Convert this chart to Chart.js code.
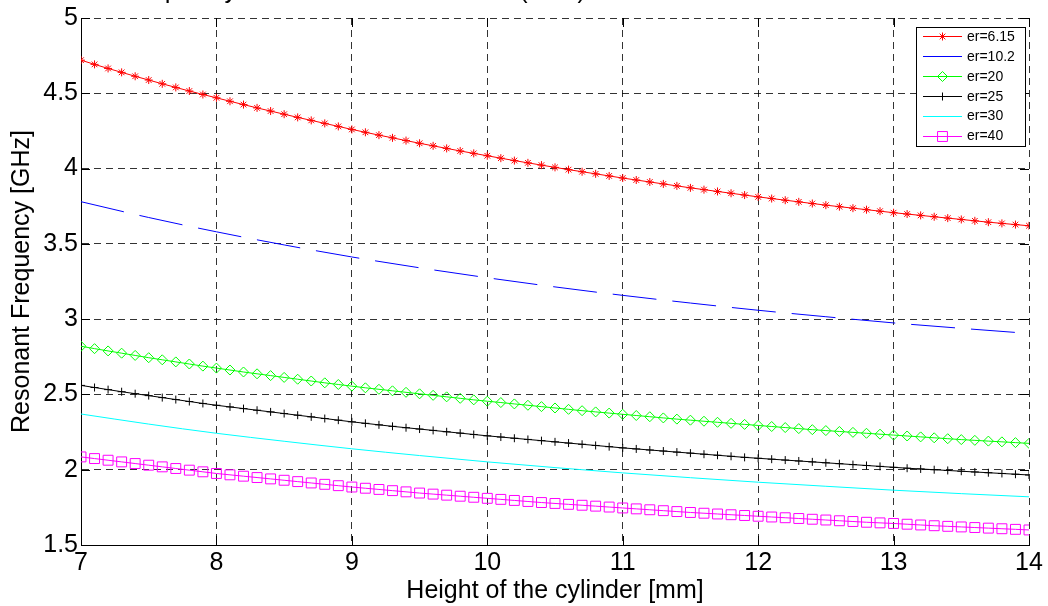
<!DOCTYPE html>
<html>
<head>
<meta charset="utf-8">
<script src="https://cdn.jsdelivr.net/npm/chart.js@4/dist/chart.umd.min.js"></script>
<style>
  html, body { margin: 0; padding: 0; background: #fff; }
  #wrap { width: 1048px; height: 606px; }
</style>
</head>
<body>
<div id="wrap"><canvas id="c" width="1048" height="606"></canvas></div>
<script>
// ==============================
// data
// ==============================
const heights = [
  7.0, 7.1, 7.2, 7.3, 7.4, 7.5, 7.6, 7.7, 7.8, 7.9,
  8.0, 8.1, 8.2, 8.3, 8.4, 8.5, 8.6, 8.7, 8.8, 8.9,
  9.0, 9.1, 9.2, 9.3, 9.4, 9.5, 9.6, 9.7, 9.8, 9.9,
  10.0, 10.1, 10.2, 10.3, 10.4, 10.5, 10.6, 10.7, 10.8, 10.9,
  11.0, 11.1, 11.2, 11.3, 11.4, 11.5, 11.6, 11.7, 11.8, 11.9,
  12.0, 12.1, 12.2, 12.3, 12.4, 12.5, 12.6, 12.7, 12.8, 12.9,
  13.0, 13.1, 13.2, 13.3, 13.4, 13.5, 13.6, 13.7, 13.8, 13.9,
  14.0
];
const heightsCoarse = [7, 7.5, 8, 8.5, 9, 9.5, 10, 10.5, 11, 11.5, 12, 12.5, 13, 13.5, 14];

const er615 = [
  4.720, 4.692, 4.665, 4.639, 4.613, 4.588, 4.563, 4.539, 4.515, 4.492,
  4.470, 4.447, 4.425, 4.403, 4.382, 4.361, 4.340, 4.320, 4.300, 4.280,
  4.260, 4.241, 4.222, 4.204, 4.186, 4.168, 4.151, 4.134, 4.117, 4.101,
  4.085, 4.069, 4.053, 4.038, 4.023, 4.008, 3.993, 3.979, 3.965, 3.951,
  3.937, 3.924, 3.911, 3.898, 3.885, 3.872, 3.860, 3.848, 3.836, 3.824,
  3.812, 3.801, 3.790, 3.779, 3.768, 3.757, 3.747, 3.737, 3.727, 3.717,
  3.707, 3.698, 3.689, 3.680, 3.671, 3.662, 3.653, 3.644, 3.636, 3.628,
  3.620
];
const er102 = [3.780, 3.675, 3.580, 3.493, 3.413, 3.341, 3.275, 3.214, 3.158, 3.107, 3.059, 3.016, 2.975, 2.939, 2.905];
const er20 = [
  2.820, 2.804, 2.789, 2.774, 2.759, 2.744, 2.730, 2.716, 2.702, 2.688,
  2.675, 2.662, 2.649, 2.637, 2.625, 2.613, 2.601, 2.589, 2.577, 2.566,
  2.555, 2.544, 2.534, 2.524, 2.514, 2.504, 2.494, 2.484, 2.474, 2.464,
  2.455, 2.446, 2.437, 2.428, 2.419, 2.410, 2.401, 2.392, 2.384, 2.376,
  2.368, 2.360, 2.352, 2.344, 2.336, 2.329, 2.322, 2.315, 2.308, 2.301,
  2.294, 2.287, 2.280, 2.273, 2.266, 2.260, 2.254, 2.248, 2.242, 2.236,
  2.230, 2.224, 2.218, 2.212, 2.206, 2.200, 2.195, 2.190, 2.185, 2.180,
  2.175
];
const er25 = [
  2.560, 2.546, 2.532, 2.518, 2.505, 2.492, 2.479, 2.466, 2.453, 2.440,
  2.428, 2.417, 2.406, 2.395, 2.384, 2.373, 2.362, 2.351, 2.340, 2.329,
  2.318, 2.308, 2.298, 2.288, 2.279, 2.270, 2.261, 2.252, 2.243, 2.234,
  2.225, 2.217, 2.209, 2.201, 2.193, 2.185, 2.177, 2.169, 2.161, 2.153,
  2.145, 2.138, 2.131, 2.124, 2.117, 2.110, 2.103, 2.096, 2.089, 2.082,
  2.076, 2.070, 2.064, 2.058, 2.052, 2.046, 2.040, 2.034, 2.028, 2.022,
  2.016, 2.010, 2.005, 2.000, 1.995, 1.990, 1.985, 1.980, 1.975, 1.970,
  1.965
];
const er30 = [2.370, 2.303, 2.242, 2.189, 2.139, 2.094, 2.052, 2.014, 1.979, 1.947, 1.917, 1.890, 1.864, 1.841, 1.820];
const er40 = [
  2.085, 2.074, 2.063, 2.052, 2.041, 2.030, 2.019, 2.008, 1.997, 1.986,
  1.975, 1.966, 1.957, 1.948, 1.939, 1.930, 1.921, 1.912, 1.903, 1.894,
  1.885, 1.877, 1.869, 1.861, 1.853, 1.845, 1.838, 1.831, 1.824, 1.817,
  1.810, 1.803, 1.796, 1.789, 1.782, 1.776, 1.770, 1.764, 1.758, 1.752,
  1.746, 1.740, 1.734, 1.728, 1.722, 1.716, 1.711, 1.706, 1.701, 1.696,
  1.691, 1.686, 1.681, 1.676, 1.671, 1.666, 1.661, 1.656, 1.651, 1.647,
  1.643, 1.638, 1.633, 1.628, 1.624, 1.620, 1.616, 1.612, 1.608, 1.604,
  1.600
];

const seriesLabels = ["er=6.15", "er=10.2", "er=20", "er=25", "er=30", "er=40"];
const titleText = "Resonant Frequency vs. dielectric constant er (GHz)";
const xTitle = "Height of the cylinder [mm]";
const yTitle = "Resonant Frequency [GHz]";

const FONT = "'Liberation Sans', Arial, Helvetica, sans-serif";

function pts(xs, ys) {
  return xs.map((x, i) => ({ x: x, y: ys[i] }));
}

// ==============================
// plugins
// ==============================
const matlabPlugin = {
  id: "matlab",

  // inward tick marks on all four sides
  beforeDatasetsDraw(chart) {
    const ctx = chart.ctx;
    const { top, bottom, left, right } = chart.chartArea;
    const xs = chart.scales.x;
    const ys = chart.scales.y;
    const len = 9;
    ctx.save();
    ctx.strokeStyle = "#000";
    ctx.lineWidth = 1;
    ctx.beginPath();
    xs.ticks.forEach((t) => {
      const px = Math.round(xs.getPixelForValue(t.value)) + 0.5;
      ctx.moveTo(px, bottom);
      ctx.lineTo(px, bottom - len);
      ctx.moveTo(px, top);
      ctx.lineTo(px, top + len);
    });
    ys.ticks.forEach((t) => {
      const py = Math.round(ys.getPixelForValue(t.value)) + 0.5;
      ctx.moveTo(left, py);
      ctx.lineTo(left + len, py);
      ctx.moveTo(right, py);
      ctx.lineTo(right - len, py);
    });
    ctx.stroke();
    ctx.restore();
  },

  afterDraw(chart) {
    const ctx = chart.ctx;
    ctx.save();

    // -------------------------
    // title (cut off at the top)
    // -------------------------
    ctx.fillStyle = "#000";
    ctx.font = "25px " + FONT;
    ctx.textAlign = "left";
    ctx.textBaseline = "alphabetic";
    ctx.fillText(titleText, 5, -2);

    // -------------------------
    // legend box
    // -------------------------
    const bx = 916.5, by = 27.5, bw = 109, bh = 119;
    ctx.fillStyle = "#fff";
    ctx.fillRect(bx, by, bw, bh);
    ctx.strokeStyle = "#000";
    ctx.lineWidth = 1;
    ctx.strokeRect(bx, by, bw, bh);

    ctx.font = "14px " + FONT;
    ctx.textBaseline = "middle";
    chart.data.datasets.forEach((ds, i) => {
      const y = 36 + i * 19.9;
      ctx.strokeStyle = ds.borderColor;
      ctx.lineWidth = 1;
      ctx.setLineDash([]);
      ctx.beginPath();
      ctx.moveTo(923, Math.round(y) + 0.5);
      ctx.lineTo(962, Math.round(y) + 0.5);
      ctx.stroke();
      if (ds.pointRadius > 0) {
        ctx.strokeStyle = ds.borderColor;
        ctx.fillStyle = "rgba(0,0,0,0)";
        Chart.helpers.drawPoint(ctx, {
          pointStyle: ds.pointStyle,
          rotation: 0,
          radius: ds.pointRadius,
          borderWidth: 1,
        }, 942.5, Math.round(y) + 0.5);
      }
      ctx.fillStyle = "#000";
      ctx.fillText(ds.label, 967, y + 1);
    });

    ctx.restore();
  },
};

// ==============================
// chart
// ==============================
const common = {
  borderWidth: 1,
  pointBorderWidth: 1,
  pointBackgroundColor: "rgba(0,0,0,0)",
  tension: 0,
  fill: false,
};

new Chart(document.getElementById("c"), {
  type: "line",
  data: {
    datasets: [
      { ...common, label: seriesLabels[0], data: pts(heights, er615),
        borderColor: "#ff0000", pointBorderColor: "#ff0000", pointStyle: "star", pointRadius: 4 },
      { ...common, label: seriesLabels[1], data: pts(heightsCoarse, er102),
        borderColor: "#0000ff", borderDash: [44, 16], pointRadius: 0, cubicInterpolationMode: "monotone" },
      { ...common, label: seriesLabels[2], data: pts(heights, er20),
        borderColor: "#00ff00", pointBorderColor: "#00ff00", pointStyle: "rectRot", pointRadius: 5 },
      { ...common, label: seriesLabels[3], data: pts(heights, er25),
        borderColor: "#000000", pointBorderColor: "#000000", pointStyle: "cross", pointRadius: 4 },
      { ...common, label: seriesLabels[4], data: pts(heightsCoarse, er30),
        borderColor: "#00ffff", pointRadius: 0, cubicInterpolationMode: "monotone" },
      { ...common, label: seriesLabels[5], data: pts(heights, er40),
        borderColor: "#ff00ff", pointBorderColor: "#ff00ff", pointStyle: "rect", pointRadius: 7 },
    ],
  },

  options: {
    responsive: false,
    animation: false,
    events: [],
    layout: {
      padding: { left: 0, right: 19, top: 17, bottom: 0 },
    },
    plugins: {
      legend: { display: false },
      tooltip: { enabled: false },
      title: { display: false },
    },
    scales: {
      x: {
        type: "linear",
        min: 7,
        max: 14,
        ticks: {
          stepSize: 1,
          color: "#000",
          font: { family: FONT, size: 25 },
          padding: 3,
          maxRotation: 0,
          callback: (v) => String(+v),
        },
        grid: {
          color: "rgba(0,0,0,0.8)",
          lineWidth: 1,
          drawTicks: false,
        },
        border: { display: true, color: "#000", width: 1, dash: [7, 5] },
        title: {
          display: true,
          text: xTitle,
          color: "#000",
          font: { family: FONT, size: 25 },
          padding: { top: 0, bottom: 0 },
        },
        afterFit(scale) {
          scale.height = 61;
        },
      },
      y: {
        type: "linear",
        min: 1.5,
        max: 5,
        ticks: {
          stepSize: 0.5,
          color: "#000",
          font: { family: FONT, size: 25 },
          padding: 3,
          callback: (v) => String(+v),
        },
        grid: {
          color: "rgba(0,0,0,0.8)",
          lineWidth: 1,
          drawTicks: false,
        },
        border: { display: true, color: "#000", width: 1, dash: [7, 5] },
        title: {
          display: true,
          text: yTitle,
          color: "#000",
          font: { family: FONT, size: 25 },
          padding: { top: 7, bottom: 0 },
        },
        afterFit(scale) {
          scale.width = 81;
        },
      },
    },
  },

  plugins: [matlabPlugin],
});
</script>
</body>
</html>
